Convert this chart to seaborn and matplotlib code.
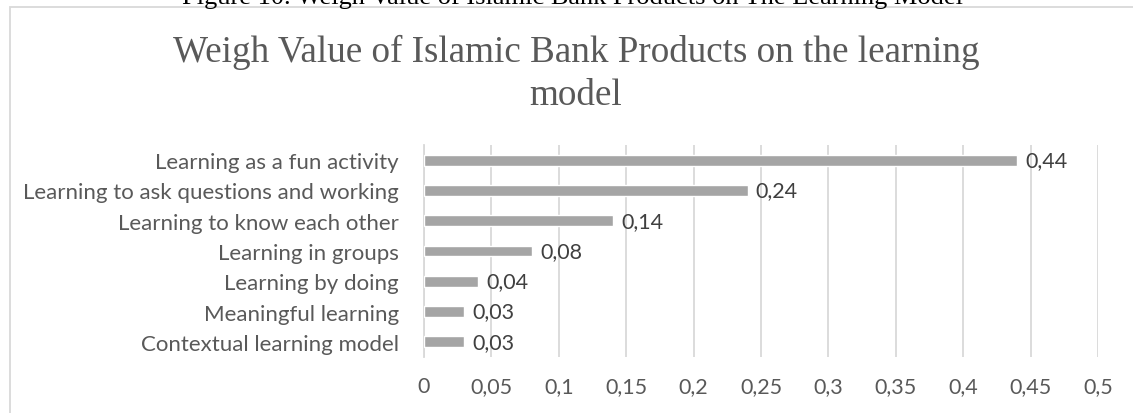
import matplotlib
matplotlib.use("Agg")
import matplotlib.pyplot as plt
import seaborn as sns
import pandas as pd
from matplotlib.patches import Rectangle

categories = [
    "Learning as a fun activity",
    "Learning to ask questions and working",
    "Learning to know each other",
    "Learning in groups",
    "Learning by doing",
    "Meaningful learning",
    "Contextual learning model",
]
values = [0.44, 0.24, 0.14, 0.08, 0.04, 0.03, 0.03]
x_ticks = [0, 0.05, 0.1, 0.15, 0.2, 0.25, 0.3, 0.35, 0.4, 0.45, 0.5]

sns.set_theme(style="white")
plt.rcParams['font.family'] = ['Lato', 'DejaVu Sans']

df = pd.DataFrame({"cat": categories, "val": values})

W, H = 1133, 414
fig = plt.figure(figsize=(W / 100, H / 100), dpi=100)
ax = fig.add_axes([424 / W, 1 - 358 / H, (1098 - 424) / W, (358 - 146) / H])

sns.barplot(data=df, x="val", y="cat", color="#a5a5a5", width=0.36,
            saturation=1, ax=ax, zorder=3)

ax.set_xlim(0, 0.5)
ax.set_ylim(6.5, -0.5)
ax.set_xticks(x_ticks)
ax.set_xticklabels([("%g" % t).replace(".", ",") for t in x_ticks])
ax.grid(axis="x", color="#d9d9d9", linewidth=1.3, zorder=0)
ax.grid(axis="y", visible=False)
for s in ["top", "right", "bottom"]:
    ax.spines[s].set_visible(False)
ax.spines["left"].set_color("#d9d9d9")
ax.spines["left"].set_linewidth(1.3)
ax.tick_params(axis="y", length=0, labelsize=16, colors="#595959", pad=18)
ax.tick_params(axis="x", length=0, labelsize=15.5, colors="#595959", pad=14)
ax.set_xlabel("")
ax.set_ylabel("")

for i, v in enumerate(values):
    ax.annotate(("%.2f" % v).replace(".", ","), (v, i), xytext=(6, 0),
                textcoords="offset points", va="center", ha="left",
                fontsize=15.5, color="#404040")

fig.text(576 / W, 1 - 62 / H, "Weigh Value of Islamic Bank Products on the learning",
         ha="center", va="baseline", fontsize=26.7, color="#595959",
         family=["Liberation Serif"])
fig.text(576 / W, 1 - 105 / H, "model",
         ha="center", va="baseline", fontsize=26.7, color="#595959",
         family=["Liberation Serif"])

fig.text(572 / W, 1 - 4 / H, "Figure 10. Weigh Value of Islamic Bank Products on The Learning Model",
         ha="center", va="baseline", fontsize=19, color="#000000",
         family=["Liberation Serif"])

fig.patches.append(Rectangle((10 / W, -0.1), 1.2, 1.1 - 8 / H,
                             transform=fig.transFigure, fill=False,
                             edgecolor="#d9d9d9", linewidth=1.3))

fig.savefig("out.png", dpi=100, facecolor="white")
